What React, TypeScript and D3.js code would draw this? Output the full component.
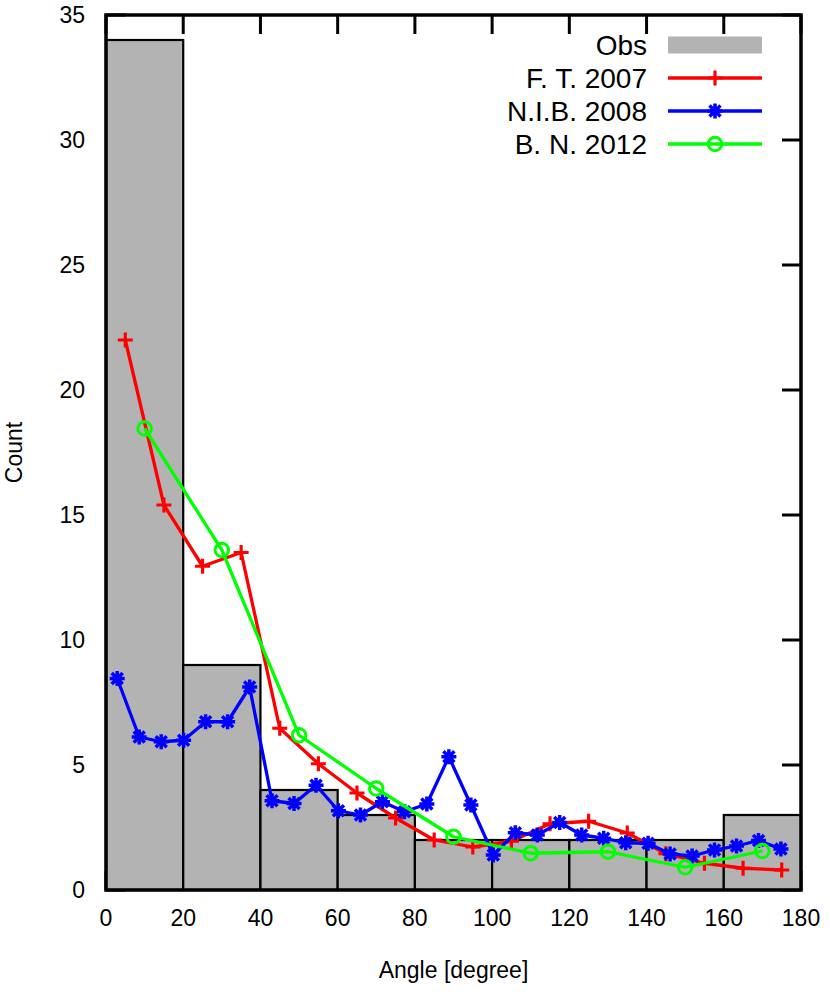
import React from 'react'
import * as d3 from 'd3'

// histogram of observations, 20 degree bins
const binStarts = [0, 20, 40, 60, 80, 100, 120, 140, 160]
const obsCounts = [34, 9, 4, 3, 2, 2, 2, 2, 3]

// F. T. 2007
const ftAngles = [5, 15, 25, 35, 45, 55, 65, 75, 85, 95, 105, 115, 125, 135, 145, 155, 165, 175]
const ftValues = [22.0, 15.4, 12.95, 13.5, 6.47, 5.05, 3.88, 2.88, 2.0, 1.72, 1.95, 2.65, 2.75, 2.28, 1.45, 1.07, 0.87, 0.8]

// N.I.B. 2008
const nibAngles = [
  2.9, 8.6, 14.3, 20.1, 25.8, 31.5, 37.2, 43.0, 48.7, 54.4, 60.2, 65.9, 71.6, 77.3, 83.1, 88.8,
  94.5, 100.3, 106.0, 111.7, 117.5, 123.2, 128.9, 134.6, 140.4, 146.1, 151.8, 157.6, 163.3, 169.0, 174.8
]
const nibValues = [
  8.46, 6.12, 5.93, 5.99, 6.73, 6.73, 8.12, 3.57, 3.46, 4.19, 3.17, 3.0, 3.53, 3.13, 3.44, 5.33,
  3.4, 1.4, 2.29, 2.2, 2.7, 2.2, 2.07, 1.89, 1.87, 1.44, 1.36, 1.6, 1.76, 1.98, 1.64
]

// B. N. 2012
const bnAngles = [10, 30, 50, 70, 90, 110, 130, 150, 170]
const bnValues = [18.46, 13.6, 6.19, 4.06, 2.13, 1.47, 1.53, 0.91, 1.56]

const xTicks = [0, 20, 40, 60, 80, 100, 120, 140, 160, 180]
const yTicks = [0, 5, 10, 15, 20, 25, 30, 35]

const W = 830
const H = 995
const left = 106
const right = 801
const top = 15
const bottom = 890
const tickLen = 19
const font = 'Liberation Sans, Arial, Helvetica, sans-serif'

const x = d3.scaleLinear().domain([0, 180]).range([left, right])
const y = d3.scaleLinear().domain([0, 35]).range([bottom, top])

const line = d3
  .line<[number, number]>()
  .x(d => x(d[0]))
  .y(d => y(d[1]))

function Plus({ cx, cy, color }: { cx: number; cy: number; color: string }) {
  const s = 7.5
  return (
    <path d={`M${cx - s},${cy}H${cx + s}M${cx},${cy - s}V${cy + s}`} stroke={color} strokeWidth={3.2} />
  )
}

function Star({ cx, cy, color }: { cx: number; cy: number; color: string }) {
  const s = 7.5
  const d = 5.5
  return (
    <path
      d={`M${cx - s},${cy}H${cx + s}M${cx},${cy - s}V${cy + s}M${cx - d},${cy - d}L${cx + d},${cy + d}M${cx - d},${cy + d}L${cx + d},${cy - d}`}
      stroke={color}
      strokeWidth={3.5}
    />
  )
}

function Ring({ cx, cy, color }: { cx: number; cy: number; color: string }) {
  return <circle cx={cx} cy={cy} r={6.8} fill="none" stroke={color} strokeWidth={3} />
}

const series = [
  { name: 'F. T. 2007', color: '#ff0000', xs: ftAngles, ys: ftValues, Marker: Plus },
  { name: 'N.I.B. 2008', color: '#0000ff', xs: nibAngles, ys: nibValues, Marker: Star },
  { name: 'B. N. 2012', color: '#00ff00', xs: bnAngles, ys: bnValues, Marker: Ring }
]

export default function App() {
  const legX0 = 668
  const legX1 = 762
  const legTextX = 647
  const legY = (i: number) => 45 + 33 * i

  return (
    <svg
      width={W}
      height={H}
      style={{ position: 'absolute', left: 0, top: 0, background: '#fff' }}
      fontFamily={font}
    >
      {/* ticks (drawn under the bars) */}
      {xTicks.map(t => (
        <g key={'xt' + t}>
          <line x1={x(t)} x2={x(t)} y1={bottom} y2={bottom - tickLen} stroke="#000" strokeWidth={3} />
          <line x1={x(t)} x2={x(t)} y1={top} y2={top + tickLen} stroke="#000" strokeWidth={3} />
        </g>
      ))}
      {yTicks.map(t => (
        <g key={'yt' + t}>
          <line x1={left} x2={left + tickLen} y1={y(t)} y2={y(t)} stroke="#000" strokeWidth={3} />
          <line x1={right} x2={right - tickLen} y1={y(t)} y2={y(t)} stroke="#000" strokeWidth={3} />
        </g>
      ))}

      {/* histogram */}
      {binStarts.map((b, i) => (
        <rect
          key={'bar' + b}
          x={x(b)}
          y={y(obsCounts[i])}
          width={x(b + 20) - x(b)}
          height={y(0) - y(obsCounts[i])}
          fill="#b3b3b3"
          stroke="#000"
          strokeWidth={2.2}
        />
      ))}

      {/* frame */}
      <rect x={left} y={top} width={right - left} height={bottom - top} fill="none" stroke="#000" strokeWidth={3.5} />

      {/* tick labels */}
      {xTicks.map(t => (
        <text key={'xl' + t} x={x(t)} y={918} dy="0.35em" textAnchor="middle" fontSize={23}>
          {t}
        </text>
      ))}
      {yTicks.map(t => (
        <text key={'yl' + t} x={85} y={y(t)} dy="0.35em" textAnchor="end" fontSize={23}>
          {t}
        </text>
      ))}

      {/* axis titles */}
      <text x={(left + right) / 2} y={970} dy="0.35em" textAnchor="middle" fontSize={23}>
        Angle [degree]
      </text>
      <text transform={`translate(14,${(top + bottom) / 2}) rotate(-90)`} dy="0.35em" textAnchor="middle" fontSize={23}>
        Count
      </text>

      {/* series */}
      {series.map(s => {
        const pts = s.xs.map((a, i) => [a, s.ys[i]] as [number, number])
        return (
          <g key={s.name}>
            <path d={line(pts) ?? ''} fill="none" stroke={s.color} strokeWidth={3.3} strokeLinejoin="round" />
            {pts.map((p, i) => (
              <s.Marker key={i} cx={x(p[0])} cy={y(p[1])} color={s.color} />
            ))}
          </g>
        )
      })}

      {/* legend */}
      <text x={legTextX} y={legY(0)} dy="0.35em" textAnchor="end" fontSize={28}>
        Obs
      </text>
      <rect x={legX0} y={legY(0) - 8.5} width={legX1 - legX0} height={17} fill="#b3b3b3" />
      {series.map((s, i) => (
        <g key={'leg' + s.name}>
          <text x={legTextX} y={legY(i + 1)} dy="0.35em" textAnchor="end" fontSize={28}>
            {s.name}
          </text>
          <line x1={legX0} x2={legX1} y1={legY(i + 1)} y2={legY(i + 1)} stroke={s.color} strokeWidth={3.3} />
          <s.Marker cx={(legX0 + legX1) / 2} cy={legY(i + 1)} color={s.color} />
        </g>
      ))}
    </svg>
  )
}
